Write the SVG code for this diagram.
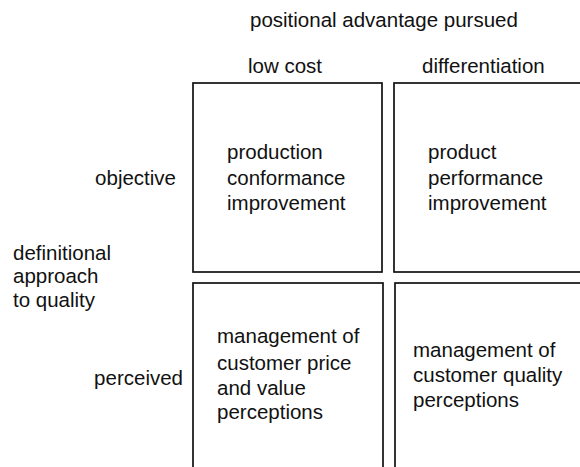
<svg xmlns="http://www.w3.org/2000/svg" width="580" height="467" viewBox="0 0 580 467">
  <style>
    text { font-family: "Liberation Sans", Arial, sans-serif; font-size: 20.5px; fill: #111; }
    .end { text-anchor: end; }
    .cell { fill: #fff; stroke: #111; stroke-width: 1.7; }
  </style>
  <rect width="580" height="467" fill="#fff"/>

  <!-- axis headings -->
  <g id="top-axis">
    <text x="250" y="27">positional advantage pursued</text>
    <text x="248" y="73">low cost</text>
    <text x="422" y="73">differentiation</text>
  </g>
  <g id="side-axis">
    <text x="13" y="260">definitional</text>
    <text x="13" y="283">approach</text>
    <text x="13" y="307">to quality</text>
    <text class="end" x="176" y="185">objective</text>
    <text class="end" x="183" y="385">perceived</text>
  </g>

  <!-- quadrant cells -->
  <g id="cell-objective-lowcost">
    <rect class="cell" x="193" y="83" width="189" height="189"/>
    <text x="227" y="159">production</text>
    <text x="227" y="185">conformance</text>
    <text x="227" y="210">improvement</text>
  </g>
  <g id="cell-objective-differentiation">
    <rect class="cell" x="394" y="83" width="200" height="189"/>
    <text x="428" y="159">product</text>
    <text x="428" y="185">performance</text>
    <text x="428" y="210">improvement</text>
  </g>
  <g id="cell-perceived-lowcost">
    <rect class="cell" x="193" y="283" width="190" height="200"/>
    <text x="217" y="343">management of</text>
    <text x="217" y="370">customer price</text>
    <text x="217" y="395">and value</text>
    <text x="217" y="419">perceptions</text>
  </g>
  <g id="cell-perceived-differentiation">
    <rect class="cell" x="395" y="283" width="200" height="200"/>
    <text x="413" y="357">management of</text>
    <text x="413" y="382">customer quality</text>
    <text x="413" y="407">perceptions</text>
  </g>
  <g id="connectors"/>
</svg>
